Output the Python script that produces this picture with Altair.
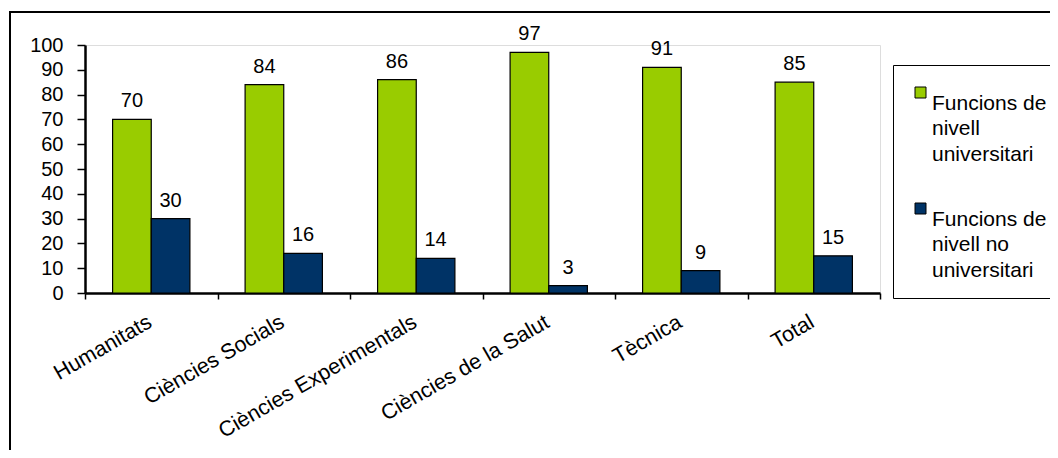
import altair as alt
import pandas as pd

categories = ["Humanitats", "Ciències Socials", "Ciències Experimentals",
              "Ciències de la Salut", "Tècnica", "Total"]
series = ["Funcions de|nivell|universitari", "Funcions de|nivell no|universitari"]
universitari = [70, 84, 86, 97, 91, 85]
no_universitari = [30, 16, 14, 3, 9, 15]
colors = ["#99CC00", "#003366"]
y_ticks = list(range(0, 101, 10))

rows = []
for c, a, b in zip(categories, universitari, no_universitari):
    rows.append({"cat": c, "serie": series[0], "val": a})
    rows.append({"cat": c, "serie": series[1], "val": b})
df = pd.DataFrame(rows)

FONT = "Liberation Sans"
W, H = 795, 248

x = alt.X("cat:N", sort=categories, title=None,
          scale=alt.Scale(paddingInner=0, paddingOuter=0),
          axis=alt.Axis(labelAngle=-30, labelAlign="right", labelBaseline="top",
                        labelPadding=12, tickSize=6, tickBand="extent",
                        tickColor="black", tickWidth=1.5, domainColor="black",
                        domainWidth=2.5, labelFont=FONT, labelFontSize=21.5,
                        labelColor="black", labelLimit=400, labelOffset=-7))
xoff = alt.XOffset("serie:N", sort=series,
                   scale=alt.Scale(paddingInner=0, paddingOuter=0.714))
y = alt.Y("val:Q", title=None,
          scale=alt.Scale(domain=[0, 100], nice=False),
          axis=alt.Axis(values=y_ticks, grid=False, tickSize=8, tickColor="black",
                        tickWidth=1.5, domainColor="black", domainWidth=2.5,
                        labelPadding=14, labelFont=FONT, labelFontSize=20,
                        labelColor="black"))

base = alt.Chart(df)

bars = base.mark_bar(stroke="black", strokeWidth=1.2).encode(
    x=x, xOffset=xoff, y=y,
    fill=alt.Fill("serie:N", sort=series,
                  scale=alt.Scale(domain=series, range=colors),
                  legend=alt.Legend(title=None, orient="none", legendX=808, legendY=20,
                                    labelExpr="split(datum.label, '|')",
                                    labelFont=FONT, labelFontSize=21, labelColor="black",
                                    labelBaseline="top", labelLimit=400,
                                    labelOffset=1,
                                    symbolType="square", symbolSize=121,
                                    symbolStrokeColor="black", symbolStrokeWidth=1,
                                    rowPadding=33, padding=17,
                                    strokeColor="black", fillColor="white"))
)

labels = base.mark_text(baseline="alphabetic", dy=-12, font=FONT, fontSize=20,
                        color="black").encode(
    x=x, xOffset=xoff, y=y, text=alt.Text("val:Q")
)

border_df = pd.DataFrame({"k": [1]})
border = alt.Chart(border_df).mark_rect(fill=None, stroke="black", strokeWidth=2,
                                         clip=False).encode(
    x=alt.value(-75), x2=alt.value(W + 300),
    y=alt.value(-33), y2=alt.value(H + 300)
)

chart = alt.layer(border, bars, labels).properties(
    width=W, height=H,
    autosize=alt.AutoSizeParams(type="none"),
    padding={"left": 77, "top": 37, "right": 170, "bottom": 157},
).configure_view(stroke=None).configure(
    style={"guide-label": {"lineHeight": 25.5}}
)

chart.save("out.html", embed_options={"renderer": "svg", "actions": False})
